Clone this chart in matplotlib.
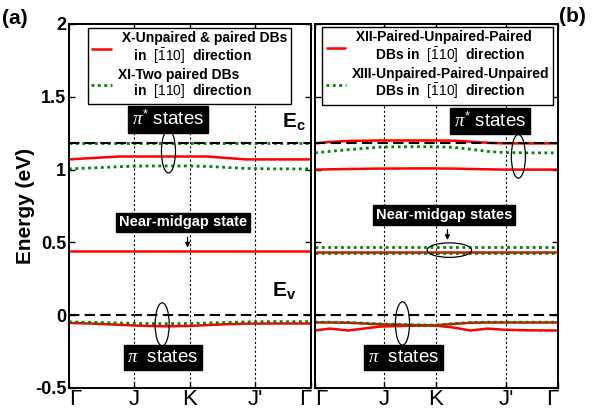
import matplotlib
matplotlib.use("Agg")
import matplotlib.pyplot as plt
from matplotlib.patches import Ellipse

plt.rcParams['font.family'] = ['Liberation Sans', 'DejaVu Sans']
plt.rcParams['mathtext.fontset'] = 'custom'
plt.rcParams['mathtext.rm'] = 'Liberation Sans'
plt.rcParams['mathtext.bf'] = 'Liberation Sans:bold'
plt.rcParams['mathtext.it'] = 'Liberation Serif:italic'

# ---------------- data ----------------
tick_labels = ["Γ", "J", "K", "J'", "Γ"]
ticks_a = [0.0, 0.27, 0.50, 0.77, 1.0]
ticks_b = [0.0, 0.286, 0.498, 0.788, 1.0]
E_c = 1.18
E_v = 0.0

# panel (a) k-points
k_a = [0.0, 0.10, 0.21, 0.30, 0.40, 0.50, 0.57, 0.65, 0.73, 0.85, 1.0]
a_red_cb = [1.07, 1.08, 1.09, 1.09, 1.09, 1.09, 1.09, 1.08, 1.07, 1.07, 1.07]
a_red_mid = [0.44, 0.44, 0.44, 0.44, 0.44, 0.44, 0.44, 0.44, 0.44, 0.44, 0.44]
a_red_vb = [-0.053, -0.058, -0.066, -0.073, -0.076, -0.074, -0.068, -0.062, -0.058, -0.057, -0.057]
a_grn_top = [1.18, 1.18, 1.18, 1.18, 1.18, 1.18, 1.18, 1.18, 1.18, 1.18, 1.18]
a_grn_cb = [1.005, 1.012, 1.02, 1.025, 1.025, 1.025, 1.022, 1.015, 1.008, 1.005, 1.005]
a_grn_vb = [-0.046, -0.049, -0.054, -0.057, -0.058, -0.057, -0.054, -0.05, -0.046, -0.044, -0.044]

# panel (b) k-points
k_b = [0.0, 0.062, 0.137, 0.268, 0.40, 0.49, 0.57, 0.64, 0.71, 0.78, 0.88, 1.0]
b_red_top = [1.18, 1.19, 1.197, 1.2, 1.2, 1.2, 1.199, 1.192, 1.184, 1.18, 1.18, 1.18]
b_red_cb = [1.0, 1.002, 1.004, 1.007, 1.008, 1.008, 1.007, 1.004, 1.002, 1.0, 1.0, 1.0]
b_red_mid = [0.435, 0.435, 0.435, 0.435, 0.435, 0.435, 0.435, 0.435, 0.435, 0.435, 0.435, 0.435]
b_red_vb1 = [-0.05, -0.05, -0.052, -0.062, -0.068, -0.07, -0.06, -0.052, -0.05, -0.05, -0.05, -0.05]
b_red_vb2 = [-0.105, -0.092, -0.105, -0.078, -0.072, -0.07, -0.085, -0.105, -0.092, -0.1, -0.104, -0.105]
b_grn_cb = [1.115, 1.125, 1.137, 1.155, 1.157, 1.157, 1.153, 1.14, 1.125, 1.117, 1.115, 1.115]
b_grn_mid1 = [0.47, 0.47, 0.47, 0.47, 0.47, 0.47, 0.47, 0.47, 0.47, 0.47, 0.47, 0.47]
b_grn_mid2 = [0.428, 0.428, 0.428, 0.428, 0.428, 0.428, 0.428, 0.428, 0.428, 0.428, 0.428, 0.428]
b_grn_vb = [-0.048, -0.048, -0.05, -0.06, -0.066, -0.068, -0.058, -0.05, -0.048, -0.048, -0.048, -0.048]

legend_a = [" X-Unpaired & paired DBs\n    in  $[\\bar{1}10]$  direction",
            "XI-Two paired DBs\n    in  $[110]$  direction"]
legend_b = [" XII-Paired-Unpaired-Paired\n      DBs in  $[\\bar{1}10]$  direction",
            "XIII-Unpaired-Paired-Unpaired\n      DBs in  $[\\bar{1}10]$  direction"]

RED = '#ff0000'
GRN = '#008000'
red_kw = dict(color=RED, lw=1.8, solid_capstyle='butt')
grn_kw = dict(color=GRN, lw=2.0, linestyle=(0, (1, 1.3)))
dash_kw = dict(color='black', lw=1.5, linestyle=(0, (5, 2.5)), zorder=4)

fig = plt.figure(figsize=(6.05, 4.17), dpi=100)
ax_a = fig.add_axes([69/605, 1-388/417, 242/605, 364/417])
ax_b = fig.add_axes([315/605, 1-388/417, 243/605, 364/417])

def style(ax, ticks):
    ax.set_xlim(0, 1)
    ax.set_ylim(-0.5, 2)
    ax.set_xticks(ticks)
    ax.set_xticklabels(tick_labels, fontsize=16)
    labs = ax.get_xticklabels()
    labs[0].set_horizontalalignment('left')
    labs[-1].set_horizontalalignment('right')
    ax.set_yticks([-0.5, 0, 0.5, 1, 1.5, 2])
    ax.tick_params(direction='in', top=True, right=True, length=4, width=1)
    ax.tick_params(axis='x', pad=1)
    for s in ax.spines.values():
        s.set_linewidth(1.4)
    for t in ticks[1:-1]:
        ax.axvline(t, color='black', lw=0.8, linestyle=(0, (2, 2)), zorder=1)
    ax.axhline(E_c, **dash_kw)
    ax.axhline(E_v, **dash_kw)

def label_box(ax, x, y, s, size, weight='normal'):
    ax.text(x, y, s, color='white', fontsize=size, fontweight=weight,
            ha='center', va='center', zorder=6,
            bbox=dict(facecolor='black', edgecolor='black', boxstyle='square,pad=0.2'))

def make_legend(ax, handles, labels, anchor):
    leg = ax.legend(handles, labels, loc='upper left', bbox_to_anchor=anchor,
                    borderaxespad=0, fancybox=False, framealpha=1, edgecolor='black',
                    prop={'weight': 'bold', 'size': 10}, handlelength=1.5, handletextpad=0.4,
                    borderpad=0.25, labelspacing=0.15)
    for t in leg.get_texts():
        t.set_linespacing(1.05)
    leg.get_frame().set_linewidth(1.0)
    leg.set_zorder(7)
    return leg

# ----- panel (a)
style(ax_a, ticks_a)
l1, = ax_a.plot(k_a, a_red_cb, **red_kw)
ax_a.plot(k_a, a_red_mid, **red_kw)
ax_a.plot(k_a, a_red_vb, **red_kw)
l2, = ax_a.plot(k_a, a_grn_top, **grn_kw)
ax_a.plot(k_a, a_grn_cb, **grn_kw)
ax_a.plot(k_a, a_grn_vb, **grn_kw)
ax_a.set_yticklabels(['-0.5', '0', '0.5', '1', '1.5', '2'], fontsize=13, fontweight='bold')
ax_a.tick_params(axis='y', pad=2)
ax_a.set_ylabel('Energy (eV)', fontsize=15, fontweight='bold', labelpad=0)
make_legend(ax_a, [l1, l2], legend_a, (0.078, 0.99))

ax_a.add_patch(Ellipse((0.411, 1.125), 0.058, 0.296, fill=False, ec='black', lw=0.9, zorder=5))
ax_a.add_patch(Ellipse((0.385, -0.063), 0.058, 0.296, fill=False, ec='black', lw=0.9, zorder=5))
label_box(ax_a, 0.41, 1.345, r'$\pi^{*}$ states', 13.5)
label_box(ax_a, 0.388, -0.289, r'$\pi$  states', 13.5)
label_box(ax_a, 0.47, 0.637, 'Near-midgap state', 10.5, 'bold')
ax_a.annotate('', xy=(0.49, 0.445), xytext=(0.49, 0.555),
              arrowprops=dict(arrowstyle='-|>', color='black', lw=0.9, mutation_scale=7), zorder=6)
ax_a.text(0.882, 1.29, r'$\mathbf{E}_\mathbf{c}$', fontsize=15, ha='left', va='baseline')
ax_a.text(0.84, 0.13, r'$\mathbf{E}_\mathbf{v}$', fontsize=15, ha='left', va='baseline')

# ----- panel (b)
style(ax_b, ticks_b)
ax_b.set_yticklabels([])
m1, = ax_b.plot(k_b, b_red_top, **red_kw)
ax_b.plot(k_b, b_red_cb, **red_kw)
ax_b.plot(k_b, b_red_mid, **red_kw)
ax_b.plot(k_b, b_red_vb1, **red_kw)
ax_b.plot(k_b, b_red_vb2, **red_kw)
m2, = ax_b.plot(k_b, b_grn_cb, **grn_kw)
ax_b.plot(k_b, b_grn_mid1, **grn_kw)
ax_b.plot(k_b, b_grn_mid2, **grn_kw)
ax_b.plot(k_b, b_grn_vb, **grn_kw)
make_legend(ax_b, [m1, m2], legend_b, (0.029, 0.992))

ax_b.add_patch(Ellipse((0.837, 1.091), 0.058, 0.30, fill=False, ec='black', lw=0.9, zorder=5))
ax_b.add_patch(Ellipse((0.553, 0.447), 0.183, 0.10, fill=False, ec='black', lw=0.9, zorder=5))
ax_b.add_patch(Ellipse((0.36, -0.057), 0.058, 0.298, fill=False, ec='black', lw=0.9, zorder=5))
label_box(ax_b, 0.72, 1.334, r'$\pi^{*}$ states', 13.5)
label_box(ax_b, 0.364, -0.291, r'$\pi$  states', 13.5)
label_box(ax_b, 0.53, 0.688, 'Near-midgap states', 10.5, 'bold')
ax_b.annotate('', xy=(0.545, 0.497), xytext=(0.545, 0.607),
              arrowprops=dict(arrowstyle='-|>', color='black', lw=0.9, mutation_scale=7), zorder=6)

fig.text(2/605, 1-18/417, '(a)', fontsize=15, fontweight='bold', ha='left', va='center')
fig.text(559/605, 1-17/417, '(b)', fontsize=15, fontweight='bold', ha='left', va='center')

fig.savefig('out.png', dpi=100)
